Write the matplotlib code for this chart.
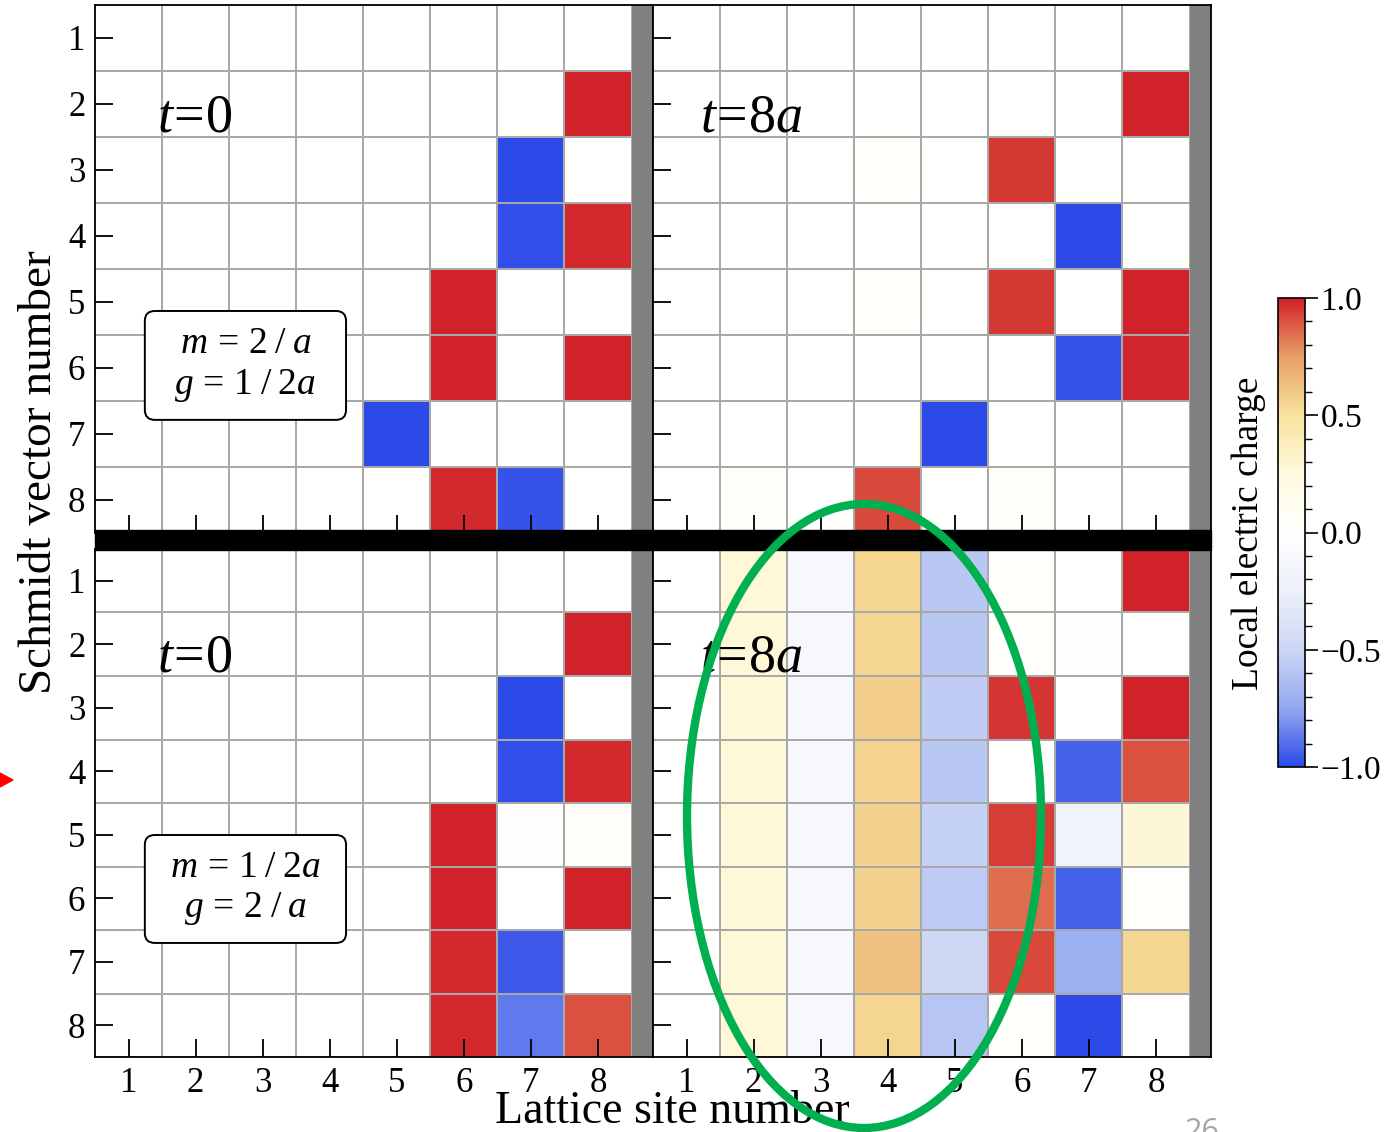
import numpy as np
import matplotlib
matplotlib.use('Agg')
import matplotlib.pyplot as plt
from matplotlib.colors import LinearSegmentedColormap
from matplotlib.patches import Ellipse, Polygon, Rectangle, FancyBboxPatch

plt.rcParams['font.family'] = ['Liberation Serif', 'DejaVu Serif']
plt.rcParams['mathtext.fontset'] = 'custom'
plt.rcParams['mathtext.rm'] = 'Liberation Serif'
plt.rcParams['mathtext.it'] = 'Liberation Serif:italic'

sites = [1, 2, 3, 4, 5, 6, 7, 8]
schmidt = [1, 2, 3, 4, 5, 6, 7, 8]

# rows = Schmidt vector number 1..8, cols = lattice site 1..8
top_left = [
    [0, 0, 0, 0, 0, 0, 0, 0],
    [0, 0, 0, 0, 0, 0, 0, 1.0],
    [0, 0, 0, 0, 0, 0, -1.0, 0],
    [0, 0, 0, 0, 0, 0, -0.98, 0.98],
    [0, 0, 0, 0, 0, 1.0, 0, 0],
    [0, 0, 0, 0, 0, 1.0, 0, 1.0],
    [0, 0, 0, 0, -1.0, 0, 0, 0],
    [0, 0, 0, 0, 0, 0.98, -0.97, 0],
]
top_right = [
    [0, 0, 0, 0, 0, 0, 0, 0],
    [0, 0, 0, 0, 0, 0, 0, 1.0],
    [0, 0, 0, 0.02, 0, 0.95, 0, 0],
    [0, 0, 0, 0, 0, 0, -1.0, 0],
    [0, 0, 0, 0.02, 0, 0.95, 0, 1.0],
    [0, 0, 0, 0, 0, 0, -0.97, 0.99],
    [0, 0, 0, 0, -1.0, 0, 0, 0],
    [0, 0.03, 0, 0.92, 0, 0.03, 0, 0],
]
bottom_left = [
    [0, 0, 0, 0, 0, 0, 0, 0],
    [0, 0, 0, 0, 0, 0, 0, 1.0],
    [0, 0, 0, 0, 0, 0, -1.0, 0],
    [0, 0, 0, 0, 0, 0, -0.98, 0.98],
    [0, 0, 0, 0, 0, 1.0, -0.03, 0.05],
    [0, 0, 0, 0, 0, 1.0, 0, 1.0],
    [0, 0, 0, 0, 0, 0.98, -0.96, 0],
    [0, 0, 0, 0, 0, 0.98, -0.87, 0.9],
]
bottom_right = [
    [0, 0.27, -0.12, 0.55, -0.58, 0.02, 0.01, 1.0],
    [0, 0.27, -0.12, 0.55, -0.58, 0.02, -0.02, 0.01],
    [0, 0.27, -0.12, 0.58, -0.55, 0.96, 0.0, 1.0],
    [0, 0.27, -0.12, 0.56, -0.58, 0.0, -0.93, 0.9],
    [0, 0.27, -0.12, 0.57, -0.53, 0.94, -0.2, 0.28],
    [0, 0.27, -0.12, 0.57, -0.57, 0.85, -0.93, 0.02],
    [0, 0.27, -0.12, 0.62, -0.48, 0.92, -0.71, 0.55],
    [0, 0.27, -0.12, 0.55, -0.59, 0.02, -1.0, 0.0],
]
cbar_ticks = [-1.0, -0.5, 0.0, 0.5, 1.0]

cmap = LinearSegmentedColormap.from_list('charge', [
    (0.000, (0.17, 0.29, 0.91)),
    (0.125, (0.58, 0.66, 0.94)),
    (0.250, (0.80, 0.84, 0.96)),
    (0.375, (0.93, 0.94, 0.98)),
    (0.500, (1.00, 1.00, 1.00)),
    (0.625, (1.00, 0.98, 0.87)),
    (0.750, (0.97, 0.89, 0.62)),
    (0.875, (0.91, 0.63, 0.40)),
    (1.000, (0.82, 0.13, 0.16)),
])

W, H = 1388, 1132
fig = plt.figure(figsize=(W / 100, H / 100), dpi=100)

def fx(px):
    return px / W

def fy(py):
    return 1 - py / H

top_box = r'$m\,=\,2\;/\;a$' + '\n' + r'$g\,=\,1\;/\;2a$'
bot_box = r'$m\,=\,1\;/\;2a$' + '\n' + r'$g\,=\,2\;/\;a$'
panels = [
    (top_left, [fx(95), fy(533), fx(558), 528 / H], True, False, r'$t\!=\!0$', top_box, (1.243, 5.136, 3.0, 1.65)),
    (top_right, [fx(653), fy(533), fx(558), 528 / H], False, False, r'$t\!=\!8a$', None, None),
    (bottom_left, [fx(95), fy(1057), fx(558), 508 / H], True, True, r'$t\!=\!0$', bot_box, (1.243, 5.004, 3.0, 1.70)),
    (bottom_right, [fx(653), fy(1057), fx(558), 508 / H], False, True, r'$t\!=\!8a$', None, None),
]

edges = np.arange(0.5, 9.0, 1.0)
mesh = None
for data, rect, left_lab, bottom_lab, ttxt, box, brect in panels:
    ax = fig.add_axes(rect)
    mesh = ax.pcolormesh(edges, edges, np.array(data), cmap=cmap, vmin=-1, vmax=1,
                         edgecolors='#a8a8a8', linewidth=1.2)
    ax.axvspan(8.5, 8.82, color='#808080', lw=0)
    ax.set_xlim(0.5, 8.82)
    ax.set_ylim(8.5, 0.5)
    ax.set_xticks(sites)
    ax.set_yticks(schmidt)
    ax.tick_params(direction='in', length=13, width=1.3, labelsize=25, pad=7,
                   labelbottom=bottom_lab, labelleft=left_lab, top=False, right=False)
    for s in ax.spines.values():
        s.set_linewidth(1.3)
    if ttxt:
        xx = 1.42 if 'a' not in ttxt else 1.2
        ax.text(xx, 2.22, ttxt, fontsize=39, va='center', ha='left')
    if box:
        bx, by, bw, bh = brect
        ax.add_patch(FancyBboxPatch((bx + 0.15, by + 0.15), bw - 0.3, bh - 0.3,
                                    boxstyle='round,pad=0.15', fc='white', ec='black', lw=1.4, zorder=3))
        ax.text(bx + bw / 2, by + bh / 2, box, fontsize=27, ha='center', va='center',
                linespacing=1.2, zorder=4)

# black separator
fig.add_artist(Rectangle((fx(95), fy(550)), fx(1116), 20 / H, transform=fig.transFigure,
                         color='black', zorder=5))

fig.text(fx(672), fy(1112), 'Lattice site number', fontsize=33, ha='center', va='center')
fig.text(fx(40), fy(472), 'Schmidt vector number', fontsize=34, ha='center', va='center', rotation=90)

cax = fig.add_axes([fx(1278), fy(767), fx(27), 469 / H])
cb = fig.colorbar(mesh, cax=cax, ticks=cbar_ticks)
cb.ax.yaxis.set_minor_locator(matplotlib.ticker.MultipleLocator(0.1))
cb.ax.tick_params(which='major', length=9, width=1.2, labelsize=24, pad=2)
cb.ax.tick_params(which='minor', length=5, width=1.0)
cb.ax.set_yticklabels(['\u22121.0', '\u22120.5', '0.0', '0.5', '1.0'])
cb.outline.set_linewidth(1.2)
fig.text(fx(1249), fy(533), 'Local electric charge', fontsize=27, ha='center', va='center', rotation=90)

# green ellipse annotation
fig.add_artist(Ellipse((fx(864), fy(816)), fx(354), 624 / H, transform=fig.transFigure,
                       fill=False, ec='#00b050', lw=6, zorder=10))
# red arrow tip at left edge
fig.add_artist(Polygon([[fx(-4), fy(771)], [fx(13), fy(780)], [fx(-4), fy(789)]],
                       closed=True, transform=fig.transFigure, color='#ff0000', zorder=10))
fig.text(fx(1202), fy(1117), '26', fontsize=22, color='#a6a6a6', ha='center', va='top',
         family=['Open Sans', 'DejaVu Sans'])

fig.savefig('out.png', dpi=100)
